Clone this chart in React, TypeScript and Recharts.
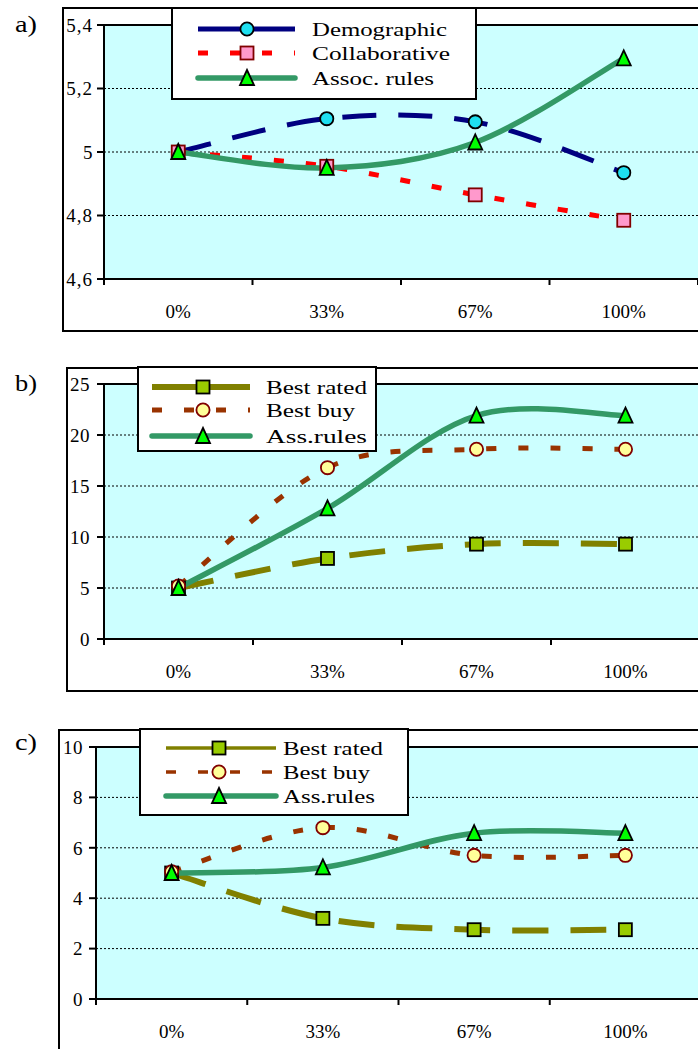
import { CartesianGrid, Line, LineChart, ReferenceLine, XAxis, YAxis } from 'recharts';

const FONT = 'Liberation Serif, Times New Roman, serif';
const CATEGORIES = ['0%', '33%', '67%', '100%'];

// a)
const A_TICKS = [4.6, 4.8, 5, 5.2, 5.4];
const A_DEMOGRAPHIC = [5.0, 5.105, 5.095, 4.935];
const A_COLLABORATIVE = [5.0, 4.955, 4.865, 4.785];
const A_ASSOC_RULES = [5.0, 4.95, 5.03, 5.295];

// b)
const B_TICKS = [0, 5, 10, 15, 20, 25];
const B_BEST_RATED = [5.0, 7.9, 9.3, 9.3];
const B_BEST_BUY = [5.2, 16.8, 18.6, 18.6];
const B_ASS_RULES = [5.0, 12.8, 21.9, 21.9];

// c)
const C_TICKS = [0, 2, 4, 6, 8, 10];
const C_BEST_RATED = [5.0, 3.2, 2.75, 2.75];
const C_BEST_BUY = [5.05, 6.8, 5.7, 5.7];
const C_ASS_RULES = [5.0, 5.22, 6.58, 6.58];

type MarkerKind = 'circle' | 'square' | 'triangle';

interface SeriesStyle {
  stroke: string;
  width: number;
  dash?: string;
  legendDash?: string;
  legendWidth?: number;
  marker: MarkerKind;
  fill: string;
  edge: string;
}

const DEMOGRAPHIC: SeriesStyle = { stroke: '#000080', width: 5, dash: '34 22', marker: 'circle', fill: '#1EE0F0', edge: '#000' };
const COLLABORATIVE: SeriesStyle = { stroke: '#FF0000', width: 5, dash: '10 22', legendDash: '10 22', marker: 'square', fill: '#FF99CC', edge: '#800000' };
const ASSOC: SeriesStyle = { stroke: '#339966', width: 5.5, marker: 'triangle', fill: '#00FF00', edge: '#000' };
const BEST_RATED: SeriesStyle = { stroke: '#808000', width: 6, dash: '36 22', marker: 'square', fill: '#99CC00', edge: '#000' };
const BEST_BUY: SeriesStyle = { stroke: '#993300', width: 5, dash: '10 22', legendDash: '10 22', marker: 'circle', fill: '#FFFF99', edge: '#800000' };

interface Series {
  name: string;
  values: number[];
  style: SeriesStyle;
}

interface Layout {
  plotLeft: number;
  plotTop: number;
  plotW: number;
  plotH: number;
  yTickMargin: number;
  frame: { left: number; top: number; height: number };
  label: { text: string; x: number; y: number };
  legend: {
    x: number;
    y: number;
    w: number;
    h: number;
    rows: number[];
    lineX1: number;
    lineX2: number;
    markerX: number;
    textX: number;
    textWidths: number[];
  };
}

// Excel-like smoothed line (Catmull-Rom as cubic Bezier)
function excelSmooth(context: any) {
  let pts: number[][] = [];
  return {
    areaStart() {},
    areaEnd() {},
    lineStart() {
      pts = [];
    },
    lineEnd() {
      if (!pts.length) return;
      context.moveTo(pts[0][0], pts[0][1]);
      for (let i = 0; i < pts.length - 1; i++) {
        const p0 = pts[Math.max(0, i - 1)];
        const p1 = pts[i];
        const p2 = pts[i + 1];
        const p3 = pts[Math.min(pts.length - 1, i + 2)];
        context.bezierCurveTo(
          p1[0] + (p2[0] - p0[0]) / 6,
          p1[1] + (p2[1] - p0[1]) / 6,
          p2[0] - (p3[0] - p1[0]) / 6,
          p2[1] - (p3[1] - p1[1]) / 6,
          p2[0],
          p2[1],
        );
      }
    },
    point(x: number, y: number) {
      pts.push([+x, +y]);
    },
  };
}

function Marker({ style, cx, cy }: { style: SeriesStyle; cx: number; cy: number }) {
  const common = { fill: style.fill, stroke: style.edge, strokeWidth: 1.8 };
  if (style.marker === 'circle') return <circle cx={cx} cy={cy} r={6.6} {...common} />;
  if (style.marker === 'square') return <rect x={cx - 6.5} y={cy - 6.5} width={13} height={13} {...common} />;
  return <polygon points={`${cx},${cy - 8} ${cx + 7},${cy + 7} ${cx - 7},${cy + 7}`} {...common} />;
}

const X_TICKS = CATEGORIES.flatMap((_, i) => [i - 0.5, i]).concat(CATEGORIES.length - 0.5);
const X_TICK_OFFSET = 26;

function CategoryTick(props: any) {
  const { x, y, payload } = props;
  const v = payload.value as number;
  if (Number.isInteger(v)) {
    return (
      <text x={x} y={y} dy="0.71em" textAnchor="middle" fill="#000" style={{ fontSize: 19, fontFamily: FONT }}>
        {CATEGORIES[v]}
      </text>
    );
  }
  return <line x1={x} x2={x} y1={y - X_TICK_OFFSET} y2={y - X_TICK_OFFSET + 6} stroke="#000" strokeWidth={2} />;
}

function ValueTick(props: any) {
  const { x, y, payload } = props;
  const label = String(payload.value).replace('.', ',');
  return (
    <text
      x={x}
      y={y}
      dy="0.36em"
      textAnchor="end"
      fill="#000"
      style={{ fontSize: 19, fontFamily: FONT, letterSpacing: label.length > 2 ? 1 : 0.5 }}
    >
      {label}
    </text>
  );
}

function Panel({ series, ticks, layout }: { series: Series[]; ticks: number[]; layout: Layout }) {
  const data = CATEGORIES.map((c, i) => {
    const row: Record<string, number | string> = { x: i, name: c };
    series.forEach((s, k) => (row[`s${k}`] = s.values[i]));
    return row;
  });
  const top = layout.plotTop - 20;
  const yMin = ticks[0];
  const yMax = ticks[ticks.length - 1];

  return (
    <div style={{ position: 'absolute', left: 0, top }}>
      <LineChart
        width={layout.plotLeft + layout.plotW}
        height={20 + layout.plotH + 50}
        data={data}
        margin={{ top: 20, left: layout.plotLeft - 60, right: 0, bottom: 0 }}
      >
        <CartesianGrid vertical={false} stroke="#000" strokeDasharray="2 2" fill="#CCFFFF" fillOpacity={1} />
        <ReferenceLine y={yMax} stroke="#000" strokeWidth={2} />
        <XAxis
          type="number"
          dataKey="x"
          domain={[-0.5, CATEGORIES.length - 0.5]}
          ticks={X_TICKS}
          interval={0}
          tickLine={false}
          tickSize={0}
          tickMargin={X_TICK_OFFSET}
          tick={<CategoryTick />}
          axisLine={{ stroke: '#000', strokeWidth: 2 }}
          height={50}
        />
        <YAxis
          type="number"
          domain={[yMin, yMax]}
          ticks={ticks}
          interval={0}
          width={60}
          tickSize={7}
          tickMargin={layout.yTickMargin}
          tickLine={{ stroke: '#000', strokeWidth: 2 }}
          axisLine={{ stroke: '#000', strokeWidth: 2 }}
          tick={<ValueTick />}
        />
        {series.map((s, k) => (
          <Line
            key={s.name}
            dataKey={`s${k}`}
            type={excelSmooth as any}
            stroke={s.style.stroke}
            strokeWidth={s.style.width}
            strokeDasharray={s.style.dash}
            dot={(p: any) => <Marker key={`${s.name}-${p.index}`} style={s.style} cx={p.cx} cy={p.cy} />}
            activeDot={false}
            isAnimationActive={false}
          />
        ))}
      </LineChart>
    </div>
  );
}

function Overlay({ series, layout }: { series: Series[]; layout: Layout }) {
  const lg = layout.legend;
  return (
    <g>
      <text
        x={layout.label.x}
        y={layout.label.y}
        fill="#000"
        textLength={22}
        lengthAdjust="spacingAndGlyphs"
        style={{ fontSize: 23, fontFamily: FONT }}
      >
        {layout.label.text}
      </text>
      <rect x={lg.x} y={lg.y} width={lg.w} height={lg.h} fill="#fff" stroke="#000" strokeWidth={2} />
      {series.map((s, k) => {
        const y = lg.rows[k];
        return (
          <g key={s.name}>
            <line
              x1={lg.lineX1}
              x2={lg.lineX2}
              y1={y}
              y2={y}
              stroke={s.style.stroke}
              strokeWidth={s.style.legendWidth ?? s.style.width}
              strokeDasharray={s.style.legendDash}
              strokeLinecap={s.style.dash ? 'butt' : 'round'}
            />
            <Marker style={s.style} cx={lg.markerX} cy={y} />
            <text
              x={lg.textX}
              y={y}
              dy="0.35em"
              fill="#000"
              textLength={lg.textWidths[k]}
              lengthAdjust="spacingAndGlyphs"
              style={{ fontSize: 19, fontFamily: FONT }}
            >
              {s.name}
            </text>
          </g>
        );
      })}
    </g>
  );
}

const SERIES_A: Series[] = [
  { name: 'Demographic', values: A_DEMOGRAPHIC, style: DEMOGRAPHIC },
  { name: 'Collaborative', values: A_COLLABORATIVE, style: COLLABORATIVE },
  { name: 'Assoc. rules', values: A_ASSOC_RULES, style: ASSOC },
];
const SERIES_B: Series[] = [
  { name: 'Best rated', values: B_BEST_RATED, style: BEST_RATED },
  { name: 'Best buy', values: B_BEST_BUY, style: BEST_BUY },
  { name: 'Ass.rules', values: B_ASS_RULES, style: ASSOC },
];
const SERIES_C: Series[] = [
  { name: 'Best rated', values: C_BEST_RATED, style: { ...BEST_RATED, legendWidth: 3.5 } },
  { name: 'Best buy', values: C_BEST_BUY, style: { ...BEST_BUY, legendWidth: 3.5 } },
  { name: 'Ass.rules', values: C_ASS_RULES, style: ASSOC },
];

const LAYOUT_A: Layout = {
  plotLeft: 104,
  plotTop: 25,
  plotW: 594,
  plotH: 254,
  yTickMargin: 4,
  frame: { left: 62, top: 7, height: 325 },
  label: { text: 'a)', x: 15, y: 32 },
  legend: { x: 172, y: 8, w: 304, h: 91, rows: [29, 53, 78], lineX1: 198, lineX2: 295, markerX: 247, textX: 312, textWidths: [135, 138, 122] },
};
const LAYOUT_B: Layout = {
  plotLeft: 104,
  plotTop: 384,
  plotW: 596,
  plotH: 255,
  yTickMargin: 7,
  frame: { left: 66, top: 367, height: 325 },
  label: { text: 'b)', x: 15, y: 391 },
  legend: { x: 138, y: 367, w: 238, h: 84, rows: [387, 410, 436], lineX1: 152, lineX2: 250, markerX: 203, textX: 266, textWidths: [101, 89, 101] },
};
const LAYOUT_C: Layout = {
  plotLeft: 96,
  plotTop: 747,
  plotW: 605,
  plotH: 252,
  yTickMargin: 6,
  frame: { left: 58, top: 729, height: 400 },
  label: { text: 'c)', x: 15, y: 750 },
  legend: { x: 140, y: 729, w: 268, h: 86, rows: [748, 772, 796], lineX1: 166, lineX2: 276, markerX: 219, textX: 283, textWidths: [100, 87, 92] },
};

const PANELS = [
  { series: SERIES_A, ticks: A_TICKS, layout: LAYOUT_A },
  { series: SERIES_B, ticks: B_TICKS, layout: LAYOUT_B },
  { series: SERIES_C, ticks: C_TICKS, layout: LAYOUT_C },
];

export default function App() {
  return (
    <div
      style={{
        position: 'absolute',
        left: 0,
        top: 0,
        width: 698,
        height: 1049,
        overflow: 'hidden',
        background: '#fff',
        fontFamily: FONT,
      }}
    >
      {PANELS.map((p) => (
        <div
          key={p.layout.label.text}
          style={{
            position: 'absolute',
            left: p.layout.frame.left,
            top: p.layout.frame.top,
            width: 720,
            height: p.layout.frame.height,
            border: '2px solid #000',
            boxSizing: 'border-box',
          }}
        />
      ))}
      {PANELS.map((p) => (
        <Panel key={p.layout.label.text} series={p.series} ticks={p.ticks} layout={p.layout} />
      ))}
      <svg width={698} height={1049} style={{ position: 'absolute', left: 0, top: 0, pointerEvents: 'none' }}>
        {PANELS.map((p) => (
          <Overlay key={p.layout.label.text} series={p.series} layout={p.layout} />
        ))}
      </svg>
    </div>
  );
}
